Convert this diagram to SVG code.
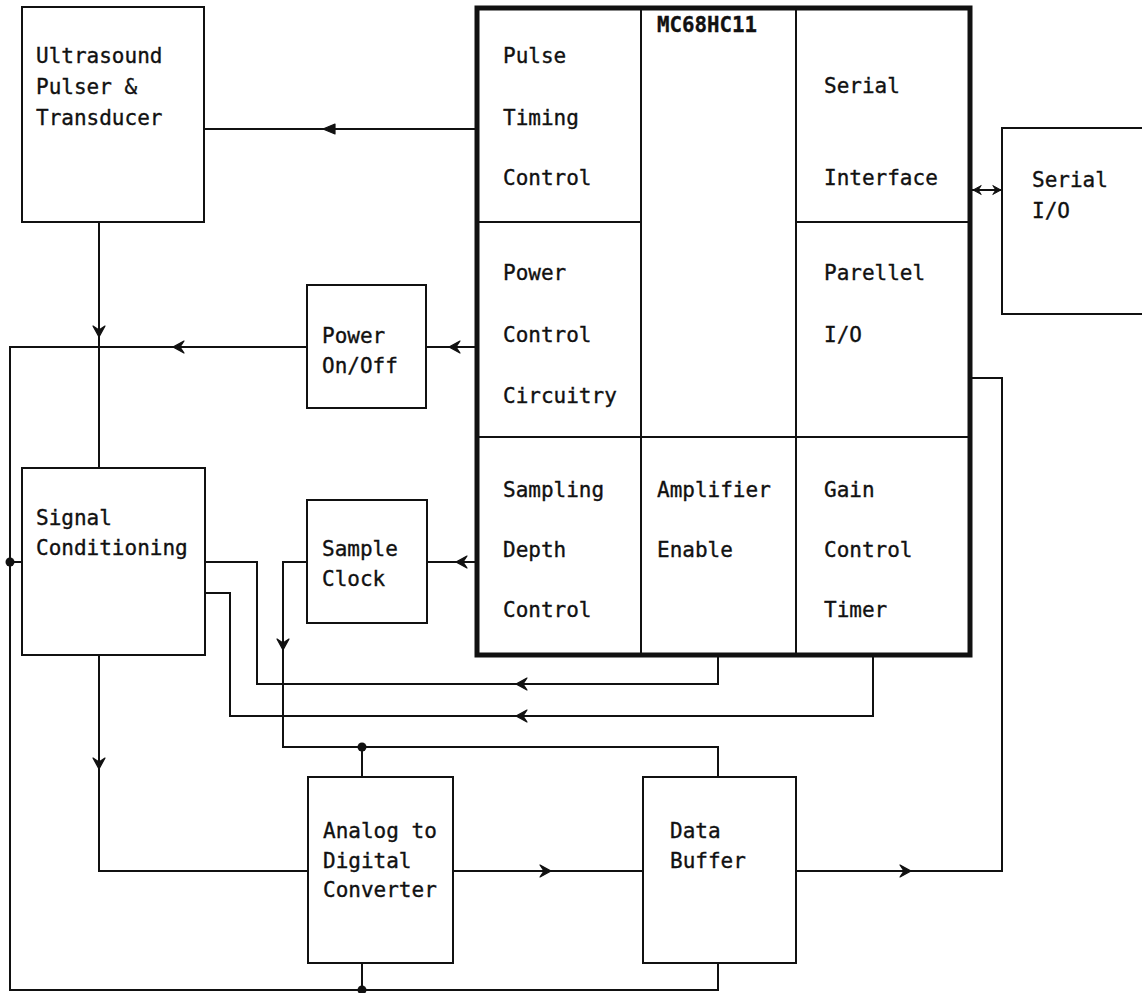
<svg xmlns="http://www.w3.org/2000/svg" xmlns:xlink="http://www.w3.org/1999/xlink" width="1142" height="993" viewBox="0 0 1142 993">
<style>
.box{fill:none;stroke:#111;stroke-width:2}
.mc{fill:none;stroke:#111;stroke-width:5}
.ln{fill:none;stroke:#111;stroke-width:2}
.t{font-family:"DejaVu Sans Mono","Liberation Mono",monospace;font-size:21px;fill:#111;stroke:#111;stroke-width:0.35}
.ah{fill:#111;stroke:#111;stroke-width:1.2;stroke-linejoin:round}
</style>
<defs>
<path id="arr" d="M0,0 L-11,-6 L-7,0 L-11,6 Z"/>
<path id="arrf" d="M0,0 L-12,-5 L-12,5 Z"/>
</defs>
<rect x="0" y="0" width="1142" height="993" fill="#fff"/>

<g id="ultrasound">
<rect class="box" x="22" y="7" width="182" height="215"/>
<text class="t" x="36" y="63">Ultrasound</text>
<text class="t" x="36" y="94">Pulser &amp;</text>
<text class="t" x="36" y="125">Transducer</text>
</g>

<g id="mc68hc11">
<rect class="mc" x="477" y="8" width="493" height="647"/>
<line class="ln" x1="641" y1="8" x2="641" y2="655"/>
<line class="ln" x1="796" y1="8" x2="796" y2="655"/>
<line class="ln" x1="477" y1="222" x2="641" y2="222"/>
<line class="ln" x1="796" y1="222" x2="970" y2="222"/>
<line class="ln" x1="477" y1="437" x2="970" y2="437"/>
<text class="t" x="657" y="32" font-weight="bold" textLength="100" lengthAdjust="spacingAndGlyphs">MC68HC11</text>
<text class="t" x="503" y="63">Pulse</text>
<text class="t" x="503" y="125">Timing</text>
<text class="t" x="503" y="185">Control</text>
<text class="t" x="503" y="280">Power</text>
<text class="t" x="503" y="342">Control</text>
<text class="t" x="503" y="403">Circuitry</text>
<text class="t" x="824" y="93">Serial</text>
<text class="t" x="824" y="185">Interface</text>
<text class="t" x="824" y="280">Parellel</text>
<text class="t" x="824" y="342">I/O</text>
<text class="t" x="503" y="497">Sampling</text>
<text class="t" x="503" y="557">Depth</text>
<text class="t" x="503" y="617">Control</text>
<text class="t" x="657" y="497">Amplifier</text>
<text class="t" x="657" y="557">Enable</text>
<text class="t" x="824" y="497">Gain</text>
<text class="t" x="824" y="557">Control</text>
<text class="t" x="824" y="617">Timer</text>
</g>

<g id="serial-io">
<rect class="box" x="1002" y="128" width="150" height="186"/>
<text class="t" x="1032" y="187">Serial</text>
<text class="t" x="1032" y="218">I/O</text>
</g>

<g id="power-onoff">
<rect class="box" x="307" y="285" width="119" height="123"/>
<text class="t" x="322" y="343">Power</text>
<text class="t" x="322" y="373">On/Off</text>
</g>

<g id="signal-conditioning">
<rect class="box" x="22" y="468" width="183" height="187"/>
<text class="t" x="36" y="525">Signal</text>
<text class="t" x="36" y="555">Conditioning</text>
</g>

<g id="sample-clock">
<rect class="box" x="307" y="500" width="120" height="123"/>
<text class="t" x="322" y="556">Sample</text>
<text class="t" x="322" y="586">Clock</text>
</g>

<g id="adc">
<rect class="box" x="308" y="777" width="145" height="186"/>
<text class="t" x="323" y="838">Analog to</text>
<text class="t" x="323" y="868">Digital</text>
<text class="t" x="323" y="897">Converter</text>
</g>

<g id="data-buffer">
<rect class="box" x="643" y="777" width="153" height="186"/>
<text class="t" x="670" y="838">Data</text>
<text class="t" x="670" y="868">Buffer</text>
</g>

<g id="connectors">
<!-- pulse timing -> ultrasound -->
<line class="ln" x1="477" y1="129" x2="204" y2="129"/>
<use href="#arrf" class="ah" transform="translate(323,129) rotate(180)"/>
<!-- ultrasound -> signal conditioning -->
<line class="ln" x1="99" y1="222" x2="99" y2="468"/>
<use href="#arr" class="ah" transform="translate(99,337) rotate(90)"/>
<!-- power control -> power on/off -->
<line class="ln" x1="477" y1="347" x2="426" y2="347"/>
<use href="#arr" class="ah" transform="translate(449,347) rotate(180)"/>
<!-- power on/off -> bus -->
<polyline class="ln" points="307,347 10,347 10,990 718,990 718,963"/>
<use href="#arr" class="ah" transform="translate(173,347) rotate(180)"/>
<line class="ln" x1="362" y1="963" x2="362" y2="990"/>
<circle cx="362" cy="990" r="4.5" fill="#111"/>
<line class="ln" x1="10" y1="562" x2="22" y2="562"/>
<circle cx="10" cy="562" r="4.5" fill="#111"/>
<!-- sampling depth -> sample clock -->
<line class="ln" x1="477" y1="562" x2="427" y2="562"/>
<use href="#arr" class="ah" transform="translate(456,562) rotate(180)"/>
<!-- sample clock -> ADC / data buffer -->
<polyline class="ln" points="307,562 283,562 283,747 718,747 718,777"/>
<use href="#arr" class="ah" transform="translate(283,650) rotate(90)"/>
<line class="ln" x1="362" y1="747" x2="362" y2="777"/>
<circle cx="362" cy="747" r="4.5" fill="#111"/>
<!-- amplifier enable -> signal conditioning -->
<polyline class="ln" points="718,655 718,684 257,684 257,562 205,562"/>
<use href="#arr" class="ah" transform="translate(516,684) rotate(180)"/>
<!-- gain control timer -> signal conditioning -->
<polyline class="ln" points="873,655 873,716 230,716 230,593 205,593"/>
<use href="#arr" class="ah" transform="translate(516,716) rotate(180)"/>
<!-- signal conditioning -> ADC -->
<polyline class="ln" points="99,655 99,871 308,871"/>
<use href="#arr" class="ah" transform="translate(99,769) rotate(90)"/>
<!-- ADC -> data buffer -->
<line class="ln" x1="453" y1="871" x2="643" y2="871"/>
<use href="#arr" class="ah" transform="translate(551,871)"/>
<!-- data buffer -> parallel I/O -->
<polyline class="ln" points="796,871 1002,871 1002,378 970,378"/>
<use href="#arr" class="ah" transform="translate(911,871)"/>
<!-- serial interface <-> serial I/O -->
<line class="ln" x1="972" y1="190" x2="1002" y2="190"/>
<use href="#arr" class="ah" transform="translate(973,190) rotate(180) scale(0.75)"/>
<use href="#arr" class="ah" transform="translate(1001,190) scale(0.75)"/>
</g>
</svg>
